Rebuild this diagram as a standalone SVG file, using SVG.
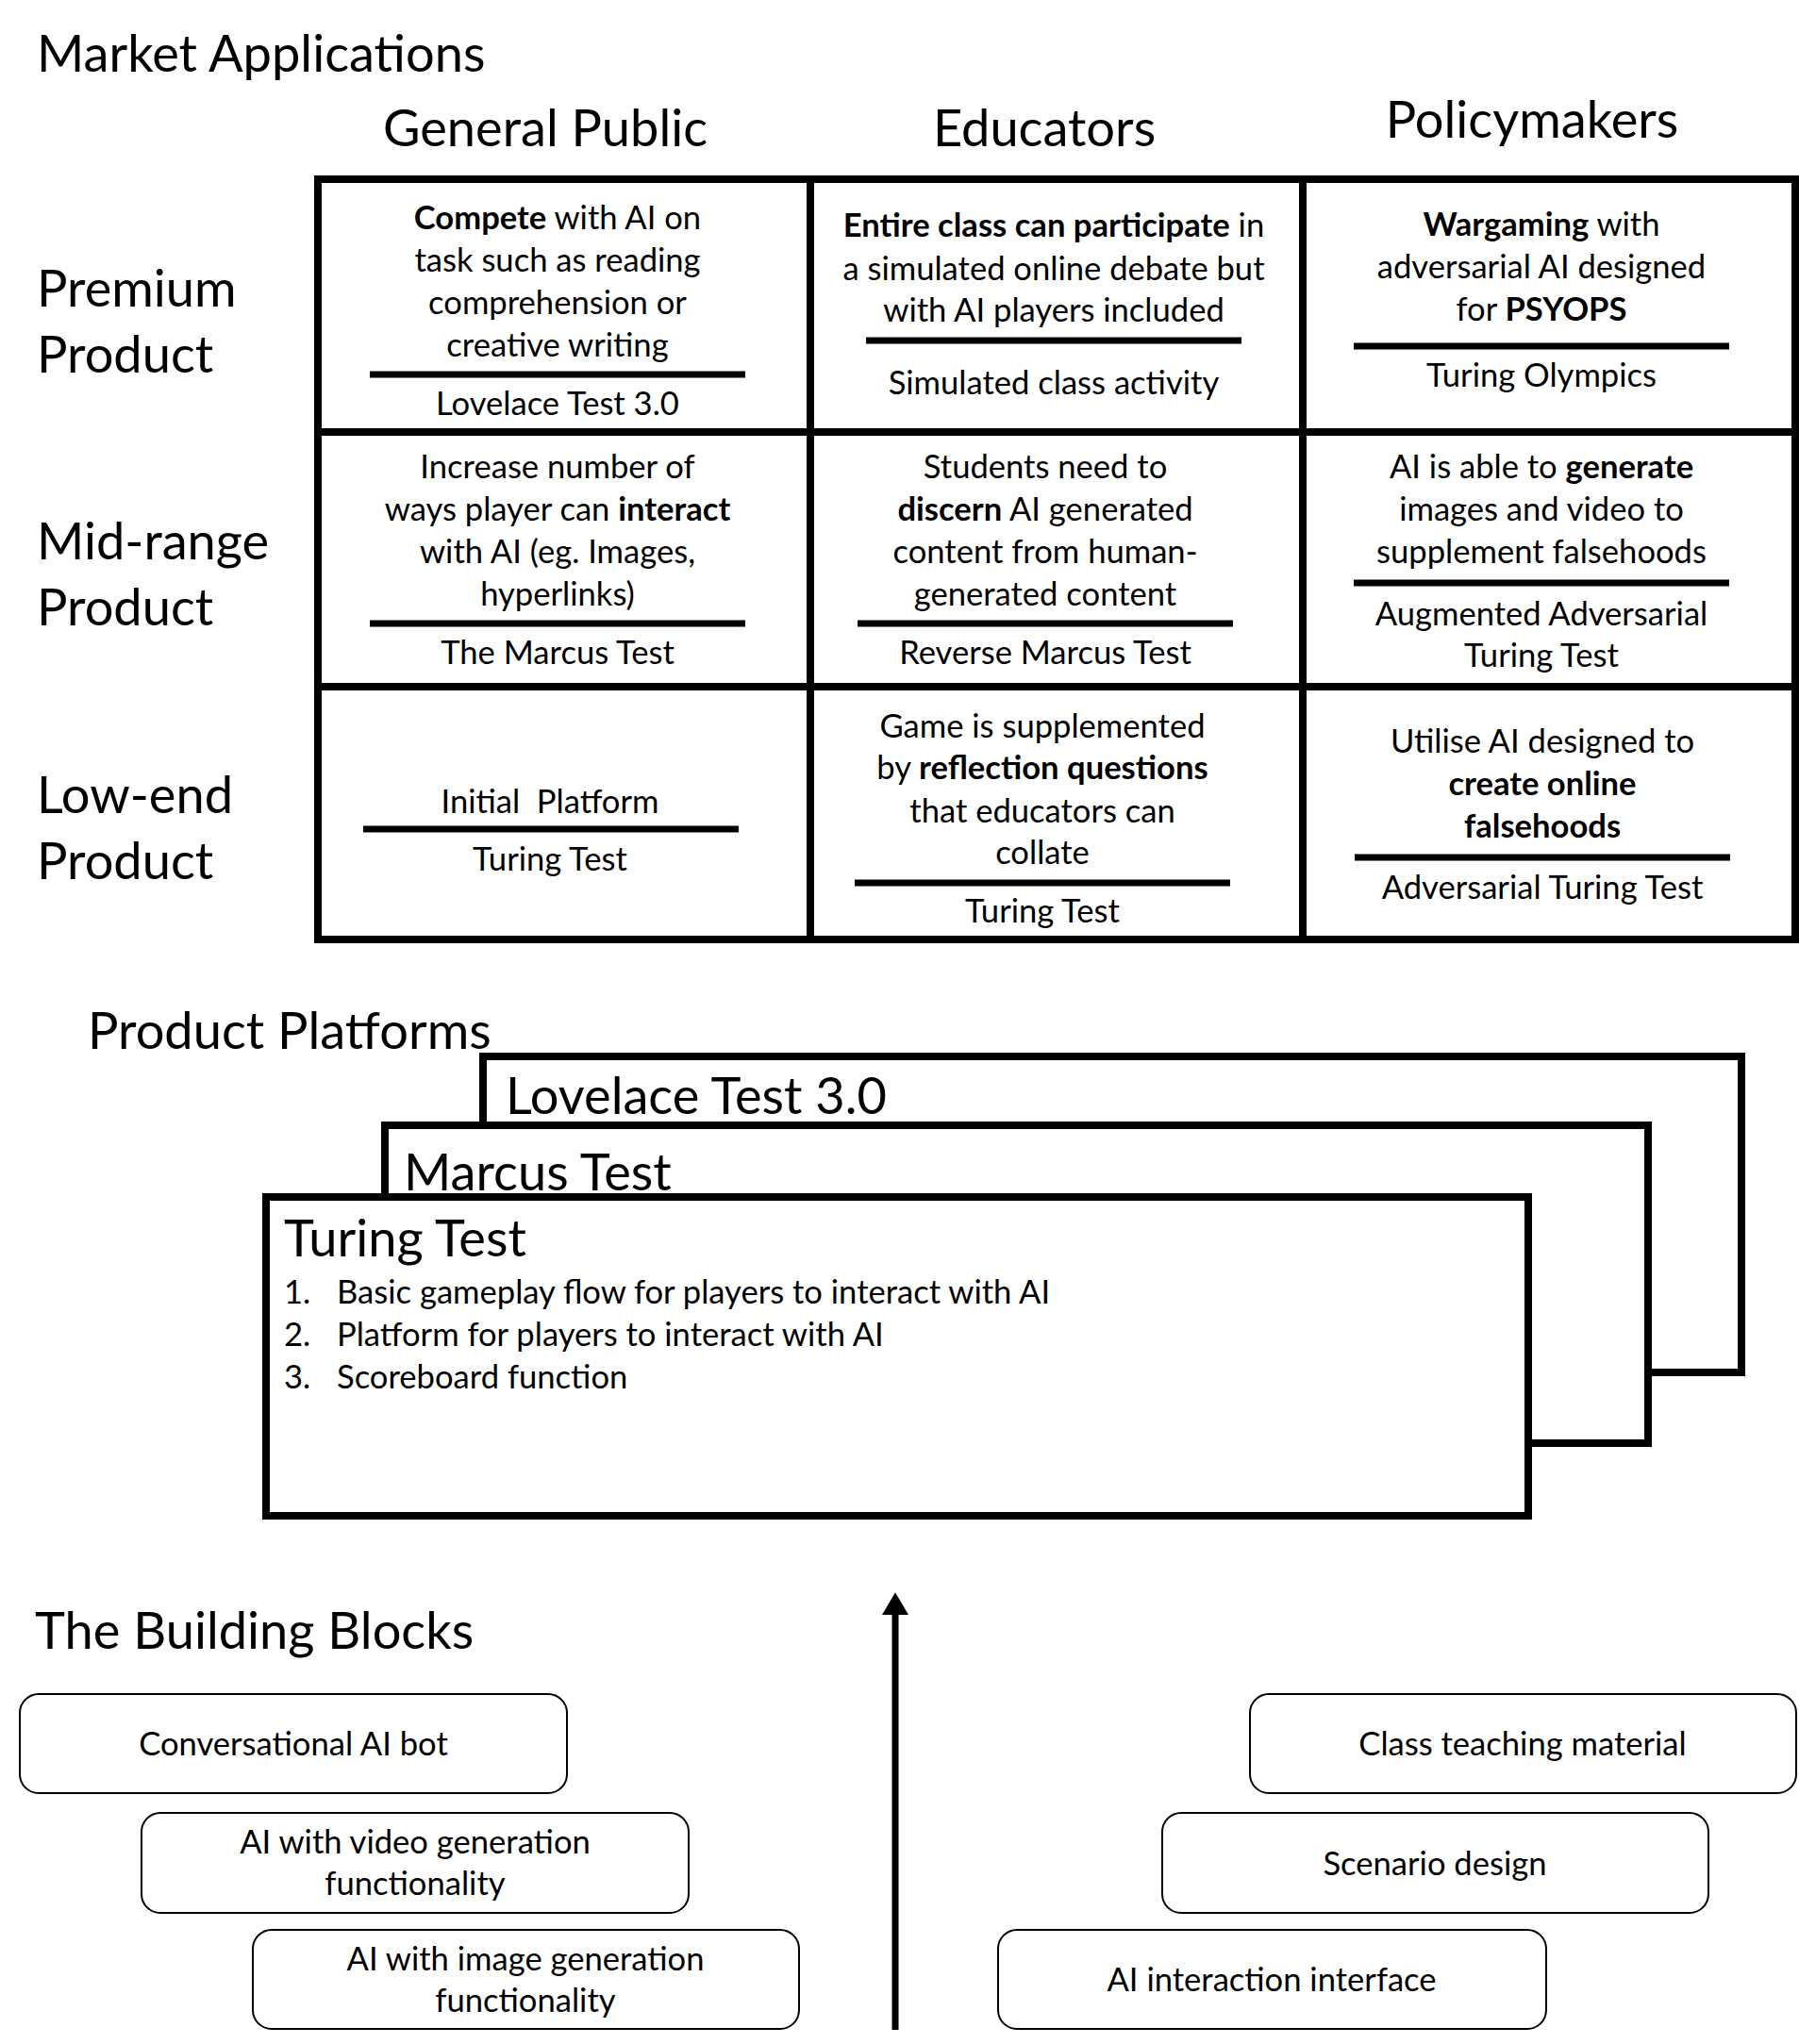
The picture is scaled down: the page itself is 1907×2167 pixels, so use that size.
<svg xmlns="http://www.w3.org/2000/svg" width="1907" height="2167" viewBox="0 0 1907 2167">
<defs>
<style>
text{font-family:Lato,"Liberation Sans",sans-serif;fill:#000}
.h{font-size:54.2px}
.t{font-size:34.6px;text-anchor:middle}
.tl{font-size:34.6px}
.b{font-weight:bold}
.grid{stroke:#000;stroke-width:8;fill:none}
.div{stroke:#000;stroke-width:7}
.plat{fill:#fff;stroke:#000;stroke-width:8}
.blk{fill:#fff;stroke:#000;stroke-width:2}
</style>
<marker id="ah" markerWidth="4" markerHeight="4" refX="0" refY="2" orient="auto" markerUnits="strokeWidth">
<path d="M0,0 L3.4,2 L0,4 z" fill="#000"/>
</marker>
</defs>
<rect width="1907" height="2167" fill="#fff"/>

<g id="titles">
<text class="h" x="39" y="76">Market Applications</text>
<text class="h" x="93" y="1112">Product Platforms</text>
<text class="h" x="37" y="1748">The Building Blocks</text>
</g>

<g id="column-headers">
<text class="h" x="578" y="155" text-anchor="middle">General Public</text>
<text class="h" x="1107" y="155" text-anchor="middle">Educators</text>
<text class="h" x="1624" y="146" text-anchor="middle">Policymakers</text>
</g>

<g id="row-headers">
<text class="h" x="39" y="325">Premium</text>
<text class="h" x="39" y="395">Product</text>
<text class="h" x="39" y="593">Mid-range</text>
<text class="h" x="39" y="663">Product</text>
<text class="h" x="39" y="862">Low-end</text>
<text class="h" x="39" y="932">Product</text>
</g>

<g id="grid">
<rect class="grid" x="337" y="190" width="1566" height="806"/>
<line class="grid" x1="859" y1="190" x2="859" y2="996"/>
<line class="grid" x1="1381" y1="190" x2="1381" y2="996"/>
<line class="grid" x1="337" y1="458" x2="1903" y2="458"/>
<line class="grid" x1="337" y1="728" x2="1903" y2="728"/>
</g>

<g id="cell-premium-public">
<text class="t" x="591" y="243"><tspan class="b">Compete</tspan> with AI on</text>
<text class="t" x="591" y="288">task such as reading</text>
<text class="t" x="591" y="333">comprehension or</text>
<text class="t" x="591" y="378">creative writing</text>
<line class="div" x1="392" y1="397" x2="790" y2="397"/>
<text class="t" x="591" y="440">Lovelace Test 3.0</text>
</g>

<g id="cell-premium-educators">
<text class="t" x="1117" y="251"><tspan class="b">Entire class can participate</tspan> in</text>
<text class="t" x="1117" y="297">a simulated online debate but</text>
<text class="t" x="1117" y="341">with AI players included</text>
<line class="div" x1="918" y1="361" x2="1316" y2="361"/>
<text class="t" x="1117" y="418">Simulated class activity</text>
</g>

<g id="cell-premium-policy">
<text class="t" x="1634" y="250"><tspan class="b">Wargaming</tspan> with</text>
<text class="t" x="1634" y="295">adversarial AI designed</text>
<text class="t" x="1634" y="340">for <tspan class="b">PSYOPS</tspan></text>
<line class="div" x1="1435" y1="367" x2="1833" y2="367"/>
<text class="t" x="1634" y="410">Turing Olympics</text>
</g>

<g id="cell-mid-public">
<text class="t" x="591" y="507">Increase number of</text>
<text class="t" x="591" y="552">ways player can <tspan class="b">interact</tspan></text>
<text class="t" x="591" y="597">with AI (eg. Images,</text>
<text class="t" x="591" y="642">hyperlinks)</text>
<line class="div" x1="392" y1="661" x2="790" y2="661"/>
<text class="t" x="591" y="704">The Marcus Test</text>
</g>

<g id="cell-mid-educators">
<text class="t" x="1108" y="507">Students need to</text>
<text class="t" x="1108" y="552"><tspan class="b">discern</tspan> AI generated</text>
<text class="t" x="1108" y="597">content from human-</text>
<text class="t" x="1108" y="642">generated content</text>
<line class="div" x1="909" y1="661" x2="1307" y2="661"/>
<text class="t" x="1108" y="704">Reverse Marcus Test</text>
</g>

<g id="cell-mid-policy">
<text class="t" x="1634" y="507">AI is able to <tspan class="b">generate</tspan></text>
<text class="t" x="1634" y="552">images and video to</text>
<text class="t" x="1634" y="597">supplement falsehoods</text>
<line class="div" x1="1435" y1="618" x2="1833" y2="618"/>
<text class="t" x="1634" y="663">Augmented Adversarial</text>
<text class="t" x="1634" y="707">Turing Test</text>
</g>

<g id="cell-low-public">
<text class="t" x="583" y="862" xml:space="preserve">Initial  Platform</text>
<line class="div" x1="385" y1="879" x2="783" y2="879"/>
<text class="t" x="583" y="923">Turing Test</text>
</g>

<g id="cell-low-educators">
<text class="t" x="1105" y="782">Game is supplemented</text>
<text class="t" x="1105" y="826">by <tspan class="b">reflection questions</tspan></text>
<text class="t" x="1105" y="872">that educators can</text>
<text class="t" x="1105" y="916">collate</text>
<line class="div" x1="906" y1="936" x2="1304" y2="936"/>
<text class="t" x="1105" y="978">Turing Test</text>
</g>

<g id="cell-low-policy">
<text class="t" x="1635" y="798">Utilise AI designed to</text>
<text class="t b" x="1635" y="843">create online</text>
<text class="t b" x="1635" y="888">falsehoods</text>
<line class="div" x1="1436" y1="909" x2="1834" y2="909"/>
<text class="t" x="1635" y="953">Adversarial Turing Test</text>
</g>

<g id="platform-lovelace">
<rect class="plat" x="512" y="1120" width="1334" height="335"/>
<text class="h" x="536" y="1181">Lovelace Test 3.0</text>
</g>
<g id="platform-marcus">
<rect class="plat" x="408" y="1193" width="1339" height="337"/>
<text class="h" x="428" y="1262">Marcus Test</text>
</g>
<g id="platform-turing">
<rect class="plat" x="282" y="1269" width="1338" height="338"/>
<text class="h" x="301" y="1332">Turing Test</text>
<text class="tl" x="301" y="1382">1.</text>
<text class="tl" x="357" y="1382">Basic gameplay flow for players to interact with AI</text>
<text class="tl" x="301" y="1427">2.</text>
<text class="tl" x="357" y="1427">Platform for players to interact with AI</text>
<text class="tl" x="301" y="1472">3.</text>
<text class="tl" x="357" y="1472">Scoreboard function</text>
</g>

<g id="connectors">
<line x1="949" y1="2152" x2="949" y2="1712" stroke="#000" stroke-width="7" marker-end="url(#ah)"/>
</g>

<g id="block-conversational">
<rect class="blk" x="21" y="1796" width="580" height="105" rx="20"/>
<text class="t" x="311" y="1861">Conversational AI bot</text>
</g>
<g id="block-video">
<rect class="blk" x="150" y="1922" width="580" height="106" rx="20"/>
<text class="t" x="440" y="1965">AI with video generation</text>
<text class="t" x="440" y="2009">functionality</text>
</g>
<g id="block-image">
<rect class="blk" x="268" y="2046" width="579" height="105" rx="20"/>
<text class="t" x="557" y="2089">AI with image generation</text>
<text class="t" x="557" y="2133">functionality</text>
</g>
<g id="block-class">
<rect class="blk" x="1325" y="1796" width="579" height="105" rx="20"/>
<text class="t" x="1614" y="1861">Class teaching material</text>
</g>
<g id="block-scenario">
<rect class="blk" x="1232" y="1922" width="579" height="106" rx="20"/>
<text class="t" x="1521" y="1988">Scenario design</text>
</g>
<g id="block-interface">
<rect class="blk" x="1058" y="2046" width="581" height="105" rx="20"/>
<text class="t" x="1348" y="2111">AI interaction interface</text>
</g>
</svg>
